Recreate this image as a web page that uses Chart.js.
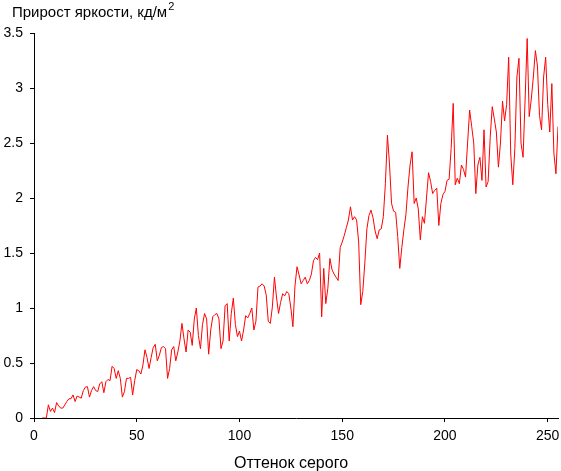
<!DOCTYPE html>
<html>
<head>
<meta charset="utf-8">
<script src="https://cdn.jsdelivr.net/npm/chart.js@4"></script>
<style>
  html, body { margin: 0; padding: 0; background: #fff; }
  #wrap { width: 561px; height: 471px; position: relative; }
</style>
</head>
<body>
<div id="wrap"><canvas id="grayChart" width="561" height="471"></canvas></div>
<script>
// brightness increment for each gray level 0..255 (null where nothing is drawn)
const brightnessGain = [
  null, null, null, null, 0, 0, 0, 0.12, 0.06, 0.09,
  0.05, 0.14, 0.11, 0.09, 0.09, 0.12, 0.15, 0.175, 0.175, 0.21,
  0.15, 0.2, 0.19, 0.18, 0.25, 0.28, 0.285, 0.19, 0.25, 0.285,
  0.25, 0.24, 0.31, 0.33, 0.23, 0.33, 0.35, 0.34, 0.47, 0.45,
  0.36, 0.43, 0.36, 0.19, 0.24, 0.36, 0.36, 0.37, 0.21, 0.34,
  0.44, 0.43, 0.4, 0.48, 0.62, 0.55, 0.45, 0.55, 0.64, 0.67,
  0.52, 0.57, 0.64, 0.65, 0.63, 0.36, 0.45, 0.62, 0.65, 0.52,
  0.6, 0.7, 0.86, 0.72, 0.6, 0.8, 0.78, 0.66, 0.9, 1.0,
  0.75, 0.63, 0.85, 0.95, 0.9, 0.58, 0.8, 0.92, 0.94, 0.95,
  0.9, 0.63, 0.7, 1.02, 1.04, 0.7, 0.95, 1.09, 0.85, 0.74,
  0.79, 0.7, 0.8, 0.93, 0.91, 0.95, 1.0, 0.8, 0.88, 1.19,
  1.2, 1.22, 1.2, 1.12, 0.88, 0.86, 1.01, 1.28, 1.1, 0.95,
  1.05, 1.13, 1.11, 1.15, 1.13, 1.0, 0.83, 1.2, 1.375, 1.3,
  1.22, 1.25, 1.28, 1.22, 1.25, 1.31, 1.43, 1.46, 1.44, 1.5,
  0.92, 1.36, 1.04, 1.18, 1.45, 1.35, 1.31, 1.28, 1.25, 1.55,
  1.6, 1.66, 1.73, 1.8, 1.92, 1.8, 1.83, 1.8, 1.6, 1.03,
  1.15, 1.41, 1.72, 1.84, 1.89, 1.82, 1.7, 1.63, 1.71, 1.72,
  1.83, 2.13, 2.57, 2.31, 1.95, 1.88, 1.87, 1.65, 1.36, 1.55,
  1.71, 1.85, 2.1, 2.3, 2.42, 1.95, 2.0, 1.9, 1.62, 1.83,
  1.77, 2.0, 2.23, 2.15, 2.04, 2.07, 2.09, 1.75, 1.95, 2.03,
  2.06, 2.16, 2.17, 2.45, 2.86, 2.12, 2.18, 2.13, 2.3, 2.26,
  2.19, 2.5, 2.8, 2.65, 2.5, 2.04, 2.3, 2.37, 2.16, 2.62,
  2.1, 2.15, 2.55, 2.83, 2.72, 2.6, 2.28, 2.5, 2.88, 2.7,
  2.85, 3.28, 2.4, 2.12, 2.45, 3.1, 3.27, 2.5, 2.37, 2.9,
  3.45, 2.74, 2.9, 3.1, 3.34, 3.2, 2.75, 2.62, 3.1, 3.28,
  2.85, 2.6, 3.04, 2.41, 2.22, 2.65
];

const xTicks = [0, 50, 100, 150, 200, 250];
const yTicks = [0, 0.5, 1, 1.5, 2, 2.5, 3, 3.5];
const yTitle = 'Прирост яркости, кд/м';
const yTitleSup = '2';
const xTitle = 'Оттенок серого';

const FONT = '"Liberation Sans", Arial, sans-serif';

// titles are drawn by hand so they sit where the original has them
const titlesPlugin = {
  id: 'titles',
  afterDraw(chart) {
    const ctx = chart.ctx;
    ctx.save();
    ctx.fillStyle = '#000';
    ctx.textBaseline = 'alphabetic';
    ctx.textAlign = 'left';
    ctx.font = '15px ' + FONT;
    ctx.fillText(yTitle, 12, 17);
    let w = ctx.measureText(yTitle).width;
    ctx.font = '11px ' + FONT;
    ctx.fillText(yTitleSup, 12 + w + 1, 10);
    ctx.textAlign = 'center';
    ctx.font = '16px ' + FONT;
    ctx.fillText(xTitle, 291, 468);
    ctx.restore();
  }
};

const ctx = document.getElementById('grayChart').getContext('2d');
const myChart = new Chart(ctx, {
  type: 'line',
  data: {
    datasets: [{
      data: brightnessGain.map(function(v, i) { return {x: i, y: v}; }),
      borderColor: '#ff0000',
      borderWidth: 1,
      pointRadius: 0,
      tension: 0,
      fill: false
    }]
  },
  options: {
    responsive: false,
    animation: false,
    layout: { padding: { top: 33, right: 3, left: 0, bottom: 0 } },
    plugins: { legend: { display: false }, tooltip: { enabled: false } },
    scales: {
      x: {
        type: 'linear',
        min: 0,
        max: 255,
        afterBuildTicks: function(s) { s.ticks = xTicks.map(function(v) { return {value: v}; }); },
        afterFit: function(s) { s.height = 53; s.paddingLeft = 0; s.paddingRight = 0; },
        grid: { drawOnChartArea: false, drawTicks: true, tickLength: 4, color: '#000' },
        border: { color: '#000', width: 1 },
        ticks: { color: '#000', font: { family: FONT, size: 14 }, padding: 6, maxRotation: 0 }
      },
      y: {
        min: 0,
        max: 3.5,
        afterBuildTicks: function(s) { s.ticks = yTicks.map(function(v) { return {value: v}; }); },
        afterFit: function(s) { s.width = 34; s.paddingTop = 0; s.paddingBottom = 0; },
        grid: { drawOnChartArea: false, drawTicks: true, tickLength: 4, color: '#000' },
        border: { color: '#000', width: 1 },
        ticks: { color: '#000', font: { family: FONT, size: 14 }, padding: 7,
          callback: function(v) { return String(v); } }
      }
    }
  },
  plugins: [titlesPlugin]
});
</script>
</body>
</html>
